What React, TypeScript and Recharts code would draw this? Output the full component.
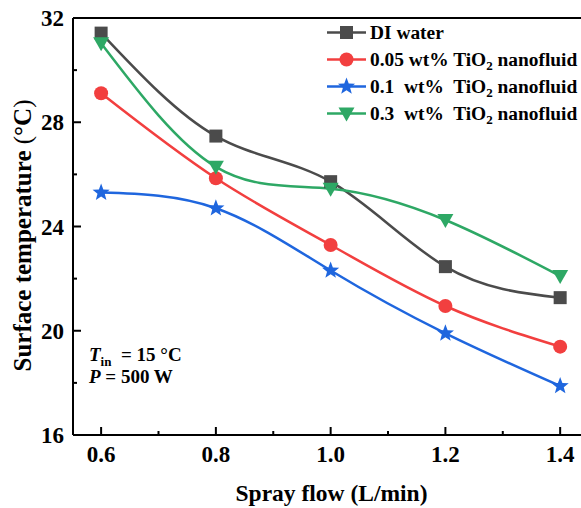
import React from "react"
import { LineChart, Line, XAxis, YAxis, ReferenceLine, Label } from "recharts"

const FONT = "'Liberation Serif', 'Times New Roman', serif"

// spray flow (L/min)
const flows = [0.6, 0.8, 1.0, 1.2, 1.4]
// surface temperature (°C)
const diWater = [31.42, 27.47, 25.72, 22.46, 21.27]
const tio2005 = [29.11, 25.85, 23.29, 20.95, 19.39]
const tio201 = [25.3, 24.7, 22.31, 19.9, 17.88]
const tio203 = [31.03, 26.29, 25.45, 24.25, 22.1]

const xTicks = [0.6, 0.7, 0.8, 0.9, 1.0, 1.1, 1.2, 1.3, 1.4]
const xLabels = [0.6, 0.8, 1.0, 1.2, 1.4]
const yTicks = [16, 18, 20, 22, 24, 26, 28, 30, 32]
const yLabels = [16, 20, 24, 28, 32]

const series = [
  { key: "di", pre: "DI water", post: "", color: "#4b4b4b", shape: "square" },
  { key: "t005", pre: "0.05 wt% TiO", post: " nanofluid", color: "#f23f3f", shape: "circle" },
  { key: "t01", pre: "0.1  wt%  TiO", post: " nanofluid", color: "#1f66de", shape: "star" },
  { key: "t03", pre: "0.3  wt%  TiO", post: " nanofluid", color: "#2ea865", shape: "triangle" },
]

const data = flows.map((f, i) => ({
  flow: f,
  di: diWater[i],
  t005: tio2005[i],
  t01: tio201[i],
  t03: tio203[i],
}))

function starPath(cx: number, cy: number, ro: number, ri: number) {
  let d = ""
  for (let i = 0; i < 10; i++) {
    const r = i % 2 === 0 ? ro : ri
    const a = -Math.PI / 2 + (i * Math.PI) / 5
    d += (i === 0 ? "M" : "L") + (cx + r * Math.cos(a)).toFixed(2) + "," + (cy + r * Math.sin(a)).toFixed(2)
  }
  return d + "Z"
}

function Marker({ cx, cy, shape, color }: { cx: number; cy: number; shape: string; color: string }) {
  if (shape === "square") return <rect x={cx - 6.5} y={cy - 6.5} width={13} height={13} fill={color} />
  if (shape === "circle") return <circle cx={cx} cy={cy} r={7} fill={color} />
  if (shape === "star") return <path d={starPath(cx, cy, 9, 3.8)} fill={color} />
  return <path d={`M${cx - 8},${cy - 6} L${cx + 8},${cy - 6} L${cx},${cy + 8} Z`} fill={color} />
}

const XTick = (props: any) => {
  const { x, y, payload } = props
  const major = xLabels.includes(payload.value)
  return (
    <g>
      <line x1={x} x2={x} y1={y} y2={y - (major ? 8 : 4)} stroke="#000" strokeWidth={2} />
      {major && (
        <text x={x} y={y + 27} textAnchor="middle" fontFamily={FONT} fontWeight="bold" fontSize={23} fill="#000">
          {payload.value.toFixed(1)}
        </text>
      )}
    </g>
  )
}

const YTick = (props: any) => {
  const { x, y, payload } = props
  const major = yLabels.includes(payload.value)
  return (
    <g>
      <line x1={x} x2={x + (major ? 8 : 4)} y1={y} y2={y} stroke="#000" strokeWidth={2} />
      {major && (
        <text x={x - 9} y={y + 8} textAnchor="end" fontFamily={FONT} fontWeight="bold" fontSize={23} fill="#000">
          {payload.value}
        </text>
      )}
    </g>
  )
}

const YTitle = (props: any) => {
  const cy = props.viewBox.y + props.viewBox.height / 2 + 9
  return (
    <text
      x={31}
      y={cy}
      transform={`rotate(-90, 31, ${cy})`}
      textAnchor="middle"
      fontFamily={FONT}
      fontWeight="bold"
      fontSize={25}
      fill="#000"
    >
      Surface temperature
      <tspan fontWeight="normal">{"  ("}</tspan>
      °C
      <tspan fontWeight="normal">{")"}</tspan>
    </text>
  )
}

const LegendBox = () => (
  <div style={{ position: "absolute", left: 327, top: 19, fontFamily: FONT, fontWeight: "bold", fontSize: 19.4, color: "#000" }}>
    {series.map((s) => (
      <div key={s.key} style={{ display: "flex", alignItems: "center", height: 27, whiteSpace: "pre" }}>
        <svg width={39} height={27} style={{ display: "block" }}>
          <line x1={0} x2={39} y1={13.5} y2={13.5} stroke={s.color} strokeWidth={2.5} />
          <Marker cx={19.5} cy={13.5} shape={s.shape} color={s.color} />
        </svg>
        <span style={{ marginLeft: 4 }}>
          {s.pre}
          {s.post && <sub style={{ fontSize: 13, verticalAlign: "-4px", lineHeight: 0 }}>2</sub>}
          {s.post}
        </span>
      </div>
    ))}
  </div>
)

export default function App() {
  return (
    <div style={{ position: "absolute", left: 0, top: 0, width: 581, height: 508, overflow: "hidden", background: "#fff" }}>
      <LineChart width={590} height={508} data={data} margin={{ top: 18, right: 0, bottom: 0, left: 0 }}>
        <XAxis
          dataKey="flow"
          type="number"
          domain={[0.551, 1.452]}
          ticks={xTicks}
          interval={0}
          height={73}
          tickSize={0}
          tickMargin={0}
          tickLine={false}
          tick={<XTick />}
          axisLine={{ stroke: "#000", strokeWidth: 2 }}
          allowDataOverflow
        >
          <Label
            value="Spray flow (L/min)"
            position="insideBottom"
            offset={7}
            style={{ fontFamily: FONT, fontWeight: "bold", fontSize: 23.5, fill: "#000" }}
          />
        </XAxis>
        <YAxis
          type="number"
          domain={[16, 32]}
          ticks={yTicks}
          interval={0}
          width={73}
          tickSize={0}
          tickMargin={0}
          tickLine={false}
          tick={<YTick />}
          axisLine={{ stroke: "#000", strokeWidth: 2 }}
        >
          <Label content={<YTitle />} />
        </YAxis>
        <ReferenceLine y={32} stroke="#000" strokeWidth={2} />
        {series.map((s) => (
          <Line
            key={s.key}
            dataKey={s.key}
            type="natural"
            stroke={s.color}
            strokeWidth={2.5}
            isAnimationActive={false}
            dot={(p: any) => <Marker key={`${s.key}-${p.index}`} cx={p.cx} cy={p.cy} shape={s.shape} color={s.color} />}
            activeDot={false}
          />
        ))}
      </LineChart>
      <LegendBox />
      <div style={{ position: "absolute", left: 89, top: 344, fontFamily: FONT, fontWeight: "bold", fontSize: 19, lineHeight: "22px", color: "#000", whiteSpace: "pre" }}>
        <div>
          <i>T</i>
          <sub style={{ fontSize: 13, verticalAlign: "-5px", lineHeight: 0 }}>in</sub>
          {"  = 15 °C"}
        </div>
        <div>
          <i>P</i>
          {" = 500 W"}
        </div>
      </div>
    </div>
  )
}
